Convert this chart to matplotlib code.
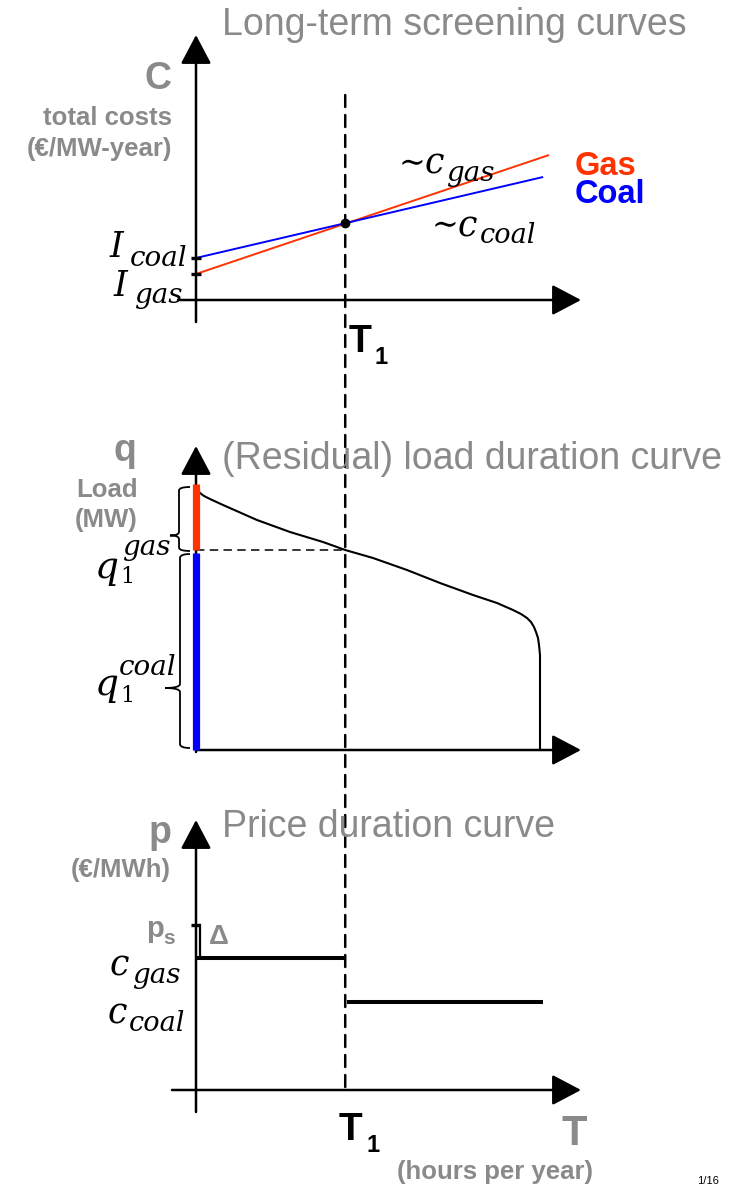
import matplotlib
matplotlib.use("Agg")
import matplotlib.pyplot as plt
from matplotlib.patches import ConnectionPatch, PathPatch
from matplotlib.path import Path

# ------------------------------------------------------------------ data
T1 = 3800            # break-even hours between gas and coal
T_END = 8760         # hours per year

# long-term screening curves (k EUR / MW-year)
gas_hours = [0, 8990]
gas_cost = [52, 290]
coal_hours = [0, 8840]
coal_cost = [84, 246]
I_gas = 52
I_coal = 84
cross_cost = 153

# (residual) load duration curve (MW)
ldc_hours = [0, 51, 102, 204, 357, 688, 1553, 2394, 3234, 3800, 4507, 5373,
             6213, 7054, 7665, 8072, 8276, 8429, 8531, 8607, 8658, 8709, 8735,
             8760, 8760]
ldc_load = [26500, 26000, 25700, 25400, 25100, 24500, 23000, 21800, 20800,
            20000, 19200, 18000, 16700, 15500, 14700, 14000, 13600, 13200,
            12800, 12300, 11800, 11200, 10500, 9500, 0]
peak_load = 26600
q1_gas_level = 20000

# price duration curve (EUR / MWh)
p_s = 33.0
c_gas = 26.4
c_coal = 17.6
scarcity_hours = 100
price_end = 8840

# ------------------------------------------------------------------ layout
W, H, DPI = 735, 1186, 100
GRAY = "#8a8a8a"
RED = "#ff3300"
BLUE = "#0000ff"
SANS = ["Liberation Sans", "DejaVu Sans"]
SERIF = ["DejaVu Serif", "DejaVu Sans"]
X0 = 196.0                    # pixel column of the vertical axes
HPP = T_END / 344.0           # hours per pixel

fig = plt.figure(figsize=(W / DPI, H / DPI), dpi=DPI)
fig.patch.set_facecolor("white")


def panel(top, bot, base, upp):
    ax = fig.add_axes([0, 1 - bot / H, 1, (bot - top) / H])
    ax.set_xlim(-X0 * HPP, (W - X0) * HPP)
    ax.set_ylim((base - bot) * upp, (base - top) * upp)
    ax.axis("off")
    fx = lambda px: (px - X0) * HPP
    fy = lambda py: (base - py) * upp
    return ax, fx, fy


def arrow(ax, start, tip):
    ax.annotate("", xy=tip, xytext=start, xycoords="data", textcoords="data",
                arrowprops=dict(arrowstyle="-|>,head_length=1.8,head_width=0.95",
                                lw=1.8, color="k", shrinkA=0, shrinkB=0,
                                mutation_scale=10),
                annotation_clip=False)


def txt(x, y, s, size, ha="left", color="k", weight="normal", family=SANS,
        style="normal"):
    fig.text(x / W, 1 - y / H, s, fontsize=size, ha=ha, va="baseline",
             color=color, fontweight=weight, family=family, fontstyle=style)


def brace(ax, x_hook, x_spine, x_tip, y_top, y_bot, y_tip, rx, ry):
    verts = [(x_hook, y_top), (x_spine, y_top), (x_spine, y_top - ry),
             (x_spine, y_tip + ry),
             (x_spine, y_tip), (x_tip, y_tip),
             (x_spine, y_tip), (x_spine, y_tip - ry),
             (x_spine, y_bot + ry),
             (x_spine, y_bot), (x_hook, y_bot)]
    codes = [Path.MOVETO, Path.CURVE3, Path.CURVE3, Path.LINETO,
             Path.CURVE3, Path.CURVE3, Path.CURVE3, Path.CURVE3,
             Path.LINETO, Path.CURVE3, Path.CURVE3]
    ax.add_patch(PathPatch(Path(verts, codes), fill=False, lw=1.3,
                           color="k", clip_on=False))


def mathlabel(x, y, main, size, sub=None, sx=0, sy=0, ssize=19, sup=None,
              px=0, py=0, psize=19, main_style="italic"):
    txt(x, y, main, size, family=SERIF, style=main_style)
    if sub:
        txt(x + sx, y + sy, sub, ssize, family=SERIF,
            style="normal" if sub.isdigit() else "italic")
    if sup:
        txt(x + px, y + py, sup, psize, family=SERIF, style="italic")


# ------------------------------------------------------------------ panel 1
ax1, X1, Y1 = panel(0, 380, 300, 2.0)
arrow(ax1, (0, Y1(322)), (0, Y1(35)))
arrow(ax1, (X1(178), 0), (X1(581), 0))
ax1.plot(gas_hours, gas_cost, color=RED, lw=1.4, solid_capstyle="butt")
ax1.plot(coal_hours, coal_cost, color=BLUE, lw=1.4, solid_capstyle="butt")
for lvl in (I_coal, I_gas):
    ax1.plot([X1(191), X1(201)], [lvl, lvl], color="k", lw=2.4,
             solid_capstyle="butt")
ax1.plot([T1], [cross_cost], "o", color="k", ms=6)

txt(222, 35, "Long-term screening curves", 27, color=GRAY)
txt(171, 89, "C", 27, ha="right", color=GRAY, weight="bold")
txt(172, 125, "total costs", 18.5, ha="right", color=GRAY, weight="bold")
txt(172, 156, "(€/MW-year)", 18.5, ha="right", color=GRAY, weight="bold")
mathlabel(110, 257, "I", 25, sub="coal", sx=20, sy=9, ssize=20)
mathlabel(114, 296, "I", 25, sub="gas", sx=20, sy=7, ssize=20)
txt(399, 172, "∼", 23, family=SERIF)
mathlabel(425, 174, "c", 25, sub="gas", sx=21, sy=7, ssize=20)
txt(432, 234, "∼", 23, family=SERIF)
mathlabel(458, 236, "c", 25, sub="coal", sx=22, sy=7, ssize=19.5)
txt(575, 175, "Gas", 23.5, color=RED, weight="bold")
txt(575, 203, "Coal", 23.5, color=BLUE, weight="bold")
txt(349, 352, "T", 27, weight="bold")
txt(375, 364, "1", 17, weight="bold")

# ------------------------------------------------------------------ panel 2
ax2, X2, Y2 = panel(380, 790, 750, 100.0)
arrow(ax2, (0, Y2(752)), (0, Y2(446)))
arrow(ax2, (X2(197), 0), (X2(581), 0))
ax2.plot([0, 0], [q1_gas_level, peak_load], color=RED, lw=5.2,
         solid_capstyle="butt", zorder=4)
ax2.plot([0, 0], [0, q1_gas_level - 300], color=BLUE, lw=5.2,
         solid_capstyle="butt", zorder=4)
ax2.plot(ldc_hours, ldc_load, color="k", lw=1.5, zorder=3)
ax2.plot([0, T1], [q1_gas_level, q1_gas_level], color="k", lw=1.1,
         dashes=(5.5, 3.5), zorder=3)
brace(ax2, X2(190), X2(179), X2(170), peak_load - 300, q1_gas_level - 100,
      q1_gas_level + 0.22 * (peak_load - q1_gas_level), 60, 350)
brace(ax2, X2(190), X2(180), X2(165), q1_gas_level - 400, 200,
      0.31 * q1_gas_level, 60, 400)

txt(136, 461, "q", 27, ha="right", color=GRAY, weight="bold")
txt(138, 497, "Load", 18.5, ha="right", color=GRAY, weight="bold")
txt(138, 527, "(MW)", 18.5, ha="right", color=GRAY, weight="bold")
txt(222, 469, "(Residual) load duration curve", 27, color=GRAY)
mathlabel(95, 578, "q", 27, sub="1", sx=25, sy=5, ssize=16,
          sup="gas", px=27, py=-23, psize=20)
mathlabel(95, 695, "q", 27, sub="1", sx=25, sy=7, ssize=16,
          sup="coal", px=24, py=-20, psize=20)

# ------------------------------------------------------------------ panel 3
ax3, X3, Y3 = panel(790, 1186, 1090, 0.2)
arrow(ax3, (0, Y3(1112)), (0, Y3(820)))
arrow(ax3, (X3(172), 0), (X3(581), 0))
ax3.plot([X3(191), scarcity_hours], [p_s, p_s], color="k", lw=2.4,
         solid_capstyle="butt")
ax3.plot([scarcity_hours, scarcity_hours], [p_s, c_gas], color="k", lw=1.6)
ax3.plot([0, T1], [c_gas, c_gas], color="k", lw=2.9, solid_capstyle="butt")
ax3.plot([T1 + 50, price_end], [c_coal, c_coal], color="k", lw=2.9,
         solid_capstyle="butt")

txt(171, 843, "p", 27, ha="right", color=GRAY, weight="bold")
txt(171, 877, "(€/MWh)", 18.5, ha="right", color=GRAY, weight="bold")
txt(222, 837, "Price duration curve", 27, color=GRAY)
txt(146, 937, "p", 21, color=GRAY, weight="bold")
txt(163, 944, "s", 15, color=GRAY, weight="bold")
txt(209, 944, "Δ", 20, color=GRAY, weight="bold")
mathlabel(110, 976, "c", 25, sub="gas", sx=22, sy=7, ssize=20)
mathlabel(108, 1024, "c", 25, sub="coal", sx=21, sy=7, ssize=19.5)
txt(339, 1140, "T", 28, weight="bold")
txt(366, 1152, "1", 17, weight="bold")
txt(561, 1145, "T", 30, color=GRAY, weight="bold")
txt(397, 1179, "(hours per year)", 18.5, color=GRAY, weight="bold")
txt(697, 1184, "1/16", 8)

# dashed T1 line across all three panels
con = ConnectionPatch(xyA=(T1, Y1(95)), coordsA=ax1.transData,
                      xyB=(T1, 0), coordsB=ax3.transData,
                      color="k", lw=1.8, linestyle=(0, (4.8, 3.2)))
con.set_clip_on(False)
fig.add_artist(con)

fig.savefig("out.png", dpi=DPI, facecolor="white")
